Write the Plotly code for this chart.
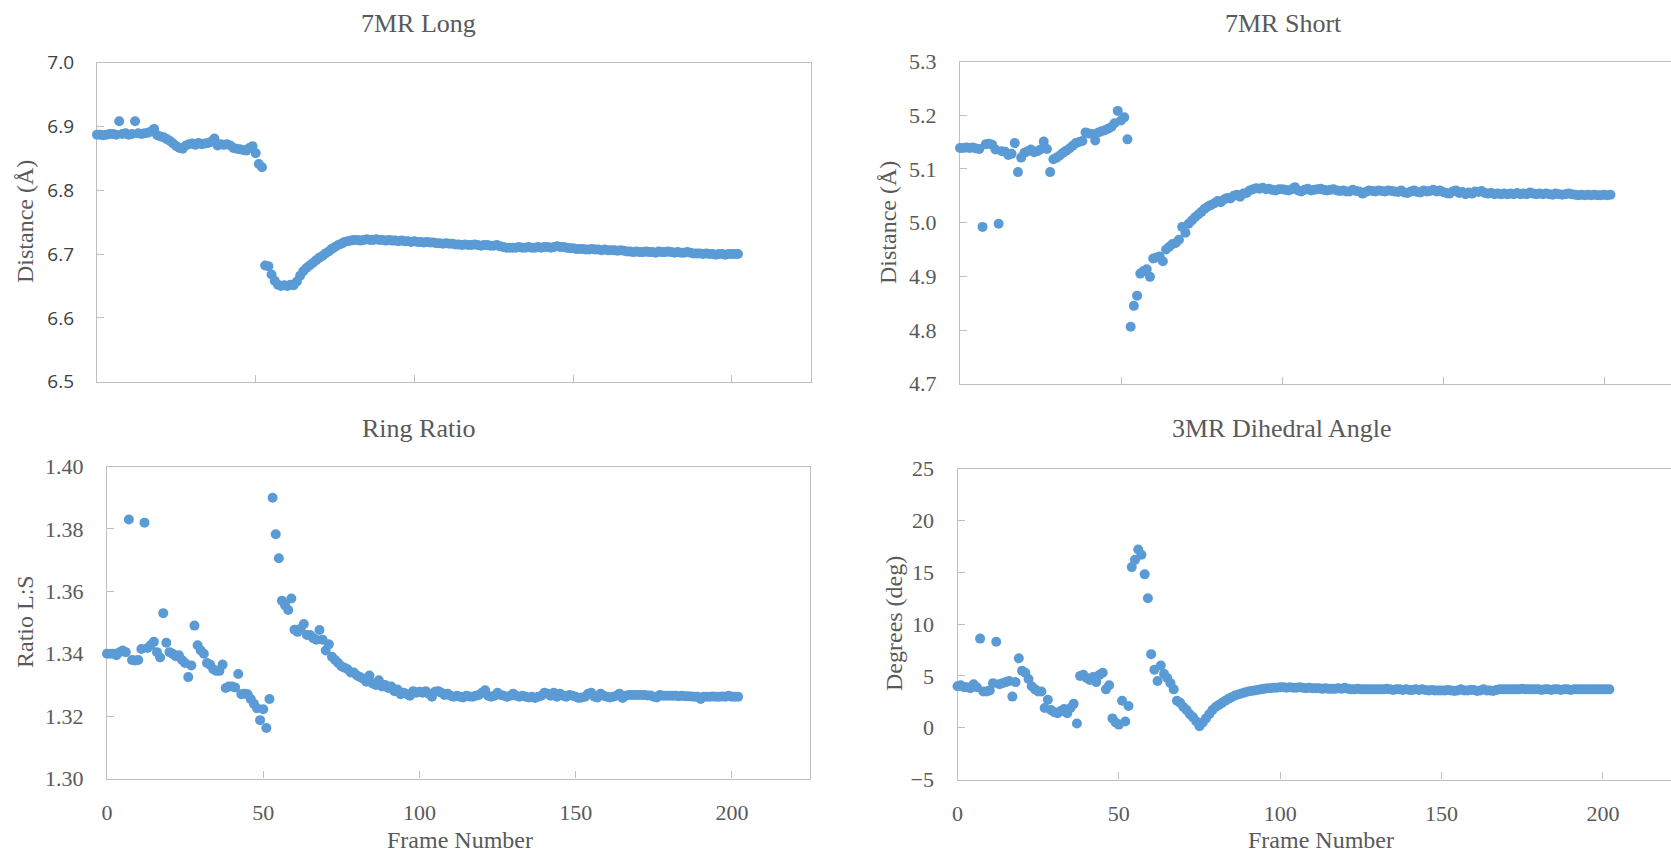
import plotly.graph_objects as go

W, H = 1671, 852

frames = list(range(203))

long_7mr = [
    6.887, 6.887, 6.886, 6.887, 6.888, 6.888, 6.887, 6.908, 6.888, 6.889,
    6.887, 6.888, 6.908, 6.889, 6.888, 6.889, 6.890, 6.892, 6.896, 6.886,
    6.884, 6.883, 6.880, 6.877, 6.873, 6.869, 6.866, 6.865, 6.870, 6.872,
    6.873, 6.871, 6.874, 6.872, 6.873, 6.874, 6.876, 6.881, 6.870, 6.872,
    6.871, 6.872, 6.870, 6.866, 6.865, 6.864, 6.863, 6.862, 6.866, 6.869,
    6.858, 6.841, 6.836, 6.682, 6.681, 6.668, 6.658, 6.652, 6.650, 6.651,
    6.650, 6.652, 6.651, 6.657, 6.666, 6.673, 6.678, 6.682, 6.686, 6.690,
    6.694, 6.697, 6.701, 6.704, 6.708, 6.711, 6.714, 6.716, 6.719, 6.720,
    6.721, 6.722, 6.722, 6.721, 6.722, 6.723, 6.722, 6.722, 6.723, 6.722,
    6.722, 6.721, 6.722, 6.721, 6.721, 6.720, 6.721, 6.720, 6.720, 6.719,
    6.720, 6.719, 6.719, 6.718, 6.719, 6.718, 6.718, 6.717, 6.717, 6.716,
    6.717, 6.716, 6.716, 6.715, 6.715, 6.714, 6.715, 6.714, 6.714, 6.715,
    6.714, 6.713, 6.714, 6.714, 6.713, 6.713, 6.714, 6.712, 6.711, 6.710,
    6.710, 6.710, 6.710, 6.711, 6.710, 6.710, 6.711, 6.710, 6.710, 6.711,
    6.710, 6.711, 6.711, 6.710, 6.711, 6.712, 6.711, 6.711, 6.710, 6.709,
    6.709, 6.708, 6.708, 6.708, 6.707, 6.707, 6.708, 6.707, 6.707, 6.706,
    6.707, 6.706, 6.706, 6.706, 6.705, 6.706, 6.705, 6.704, 6.704, 6.703,
    6.704, 6.703, 6.703, 6.704, 6.703, 6.703, 6.702, 6.704, 6.703, 6.703,
    6.704, 6.703, 6.702, 6.703, 6.702, 6.702, 6.703, 6.702, 6.701, 6.701,
    6.701, 6.700, 6.701, 6.700, 6.700, 6.699, 6.700, 6.700, 6.699, 6.700,
    6.700, 6.700, 6.700,
]

short_7mr = [
    5.139, 5.139, 5.140, 5.139, 5.140, 5.138, 5.137, 4.992, 5.146, 5.147,
    5.145, 5.136, 4.998, 5.133, 5.132, 5.126, 5.128, 5.148, 5.094, 5.121,
    5.130, 5.133, 5.136, 5.131, 5.133, 5.136, 5.151, 5.137, 5.094, 5.118,
    5.121, 5.125, 5.130, 5.134, 5.138, 5.143, 5.148, 5.150, 5.152, 5.168,
    5.166, 5.165, 5.153, 5.168, 5.170, 5.172, 5.175, 5.178, 5.185, 5.208,
    5.190, 5.196, 5.155, 4.806, 4.845, 4.864, 4.905, 4.910, 4.913, 4.899,
    4.933, 4.935, 4.937, 4.928, 4.950, 4.955, 4.960, 4.962, 4.968, 4.992,
    4.981, 4.998, 5.004, 5.010, 5.015, 5.020, 5.026, 5.030, 5.033, 5.036,
    5.040, 5.038, 5.043, 5.046, 5.045, 5.050, 5.052, 5.048, 5.054, 5.055,
    5.060, 5.062, 5.064, 5.063, 5.065, 5.062, 5.063, 5.061, 5.060, 5.062,
    5.062, 5.061, 5.060, 5.062, 5.066, 5.060, 5.058, 5.061, 5.063, 5.060,
    5.061, 5.062, 5.063, 5.061, 5.060, 5.061, 5.062, 5.060, 5.059, 5.060,
    5.058, 5.058, 5.061, 5.059, 5.058, 5.054, 5.057, 5.060, 5.059, 5.058,
    5.060, 5.059, 5.058, 5.060, 5.059, 5.058, 5.057, 5.060, 5.056, 5.055,
    5.058, 5.060, 5.057, 5.056, 5.060, 5.058, 5.059, 5.061, 5.058, 5.060,
    5.057, 5.055, 5.054, 5.058, 5.060, 5.055, 5.057, 5.053, 5.056, 5.054,
    5.058, 5.057, 5.059, 5.055, 5.054, 5.055, 5.053, 5.054, 5.053, 5.054,
    5.053, 5.054, 5.053, 5.055, 5.053, 5.054, 5.053, 5.056, 5.054, 5.053,
    5.054, 5.053, 5.054, 5.053, 5.052, 5.054, 5.053, 5.052, 5.053, 5.054,
    5.053, 5.052, 5.051, 5.052, 5.051, 5.052, 5.051, 5.052, 5.051, 5.051,
    5.052, 5.051, 5.052,
]

ring_ratio = [
    1.3400, 1.3400, 1.3400, 1.3395, 1.3405, 1.3410, 1.3405, 1.3830, 1.3380, 1.3378,
    1.3380, 1.3415, 1.3820, 1.3418, 1.3428, 1.3438, 1.3405, 1.3388, 1.3530, 1.3435,
    1.3405, 1.3400, 1.3392, 1.3395, 1.3380, 1.3370, 1.3325, 1.3362, 1.3490, 1.3427,
    1.3410, 1.3400, 1.3370, 1.3365, 1.3350, 1.3345, 1.3345, 1.3365, 1.3290, 1.3295,
    1.3295, 1.3292, 1.3335, 1.3270, 1.3272, 1.3270, 1.3255, 1.3240, 1.3225, 1.3187,
    1.3222, 1.3162, 1.3255, 1.3900, 1.3783, 1.3706, 1.3570, 1.3555, 1.3540, 1.3577,
    1.3477, 1.3470, 1.3480, 1.3495, 1.3460, 1.3460, 1.3450, 1.3445, 1.3476, 1.3445,
    1.3410, 1.3430, 1.3390, 1.3380, 1.3370, 1.3360, 1.3355, 1.3350, 1.3340, 1.3340,
    1.3330, 1.3325, 1.3320, 1.3310, 1.3330, 1.3305, 1.3300, 1.3315, 1.3295, 1.3300,
    1.3290, 1.3295, 1.3280, 1.3285, 1.3270, 1.3275, 1.3270, 1.3265, 1.3280, 1.3275,
    1.3278, 1.3275, 1.3280, 1.3272, 1.3262, 1.3278, 1.3280, 1.3275, 1.3268, 1.3272,
    1.3265, 1.3262, 1.3265, 1.3262, 1.3260, 1.3265, 1.3263, 1.3262, 1.3265, 1.3268,
    1.3275, 1.3283, 1.3265, 1.3262, 1.3265, 1.3275, 1.3268, 1.3265, 1.3262, 1.3265,
    1.3272, 1.3265, 1.3262, 1.3265, 1.3262, 1.3260, 1.3262, 1.3258, 1.3262, 1.3265,
    1.3275, 1.3272, 1.3265, 1.3275, 1.3262, 1.3272, 1.3265, 1.3262, 1.3268, 1.3265,
    1.3262, 1.3258, 1.3260, 1.3262, 1.3272, 1.3275, 1.3262, 1.3260, 1.3272, 1.3265,
    1.3262, 1.3260, 1.3262, 1.3265, 1.3272, 1.3258, 1.3265, 1.3268, 1.3268, 1.3268,
    1.3268, 1.3268, 1.3268, 1.3266, 1.3266, 1.3262, 1.3260, 1.3268, 1.3265, 1.3265,
    1.3265, 1.3265, 1.3265, 1.3264, 1.3265, 1.3264, 1.3264, 1.3263, 1.3262, 1.3262,
    1.3255, 1.3262, 1.3262, 1.3262, 1.3263, 1.3262, 1.3262, 1.3263, 1.3262, 1.3265,
    1.3262, 1.3262, 1.3262,
]

dihedral = [
    4.00, 4.10, 3.90, 3.90, 3.80, 4.20, 3.90, 8.60, 3.50, 3.50,
    3.60, 4.30, 8.30, 4.20, 4.30, 4.40, 4.50, 3.00, 4.40, 6.70,
    5.50, 5.30, 4.70, 4.00, 3.70, 3.50, 3.50, 1.90, 2.70, 1.70,
    1.50, 1.40, 1.60, 1.80, 1.40, 1.90, 2.30, 0.40, 5.00, 5.10,
    4.80, 4.60, 4.90, 4.40, 5.10, 5.30, 3.70, 4.10, 0.90, 0.50,
    0.30, 2.60, 0.60, 2.10, 15.50, 16.20, 17.20, 16.70, 14.80, 12.50,
    7.10, 5.60, 4.50, 6.00, 5.20, 4.80, 4.30, 3.70, 2.60, 2.40,
    2.00, 1.70, 1.30, 1.00, 0.60, 0.15, 0.50, 0.90, 1.30, 1.70,
    2.00, 2.20, 2.40, 2.60, 2.80, 2.95, 3.10, 3.20, 3.30, 3.40,
    3.50, 3.55, 3.60, 3.65, 3.70, 3.75, 3.80, 3.80, 3.85, 3.85,
    3.90, 3.90, 3.85, 3.90, 3.85, 3.85, 3.90, 3.85, 3.80, 3.85,
    3.80, 3.80, 3.80, 3.75, 3.80, 3.75, 3.75, 3.75, 3.80, 3.75,
    3.85, 3.75, 3.70, 3.70, 3.75, 3.70, 3.70, 3.70, 3.70, 3.70,
    3.70, 3.70, 3.70, 3.75, 3.70, 3.65, 3.70, 3.70, 3.65, 3.70,
    3.65, 3.65, 3.70, 3.65, 3.70, 3.65, 3.60, 3.65, 3.60, 3.60,
    3.60, 3.60, 3.65, 3.60, 3.55, 3.60, 3.70, 3.60, 3.60, 3.65,
    3.65, 3.55, 3.60, 3.70, 3.60, 3.60, 3.55, 3.65, 3.70, 3.70,
    3.70, 3.70, 3.70, 3.70, 3.70, 3.75, 3.70, 3.70, 3.70, 3.70,
    3.70, 3.65, 3.70, 3.70, 3.65, 3.70, 3.70, 3.65, 3.70, 3.70,
    3.65, 3.70, 3.70, 3.70, 3.70, 3.70, 3.70, 3.70, 3.70, 3.70,
    3.70, 3.70, 3.70,
]

titles = ["7MR Long", "7MR Short", "Ring Ratio", "3MR Dihedral Angle"]
y_titles = ["Distance (Å)", "Distance (Å)", "Ratio L:S", "Degrees (deg)"]
x_title = "Frame Number"
x_ticks = [0, 50, 100, 150, 200]

BLUE = "#5B9BD5"
GRID = "#BFBFBF"
TXT = "#595959"
SERIF = "Liberation Serif, Times New Roman, serif"


def px_x(p):
    return p / W


def px_y(p):
    return 1 - p / H


# panel boxes in pixels: (left, right, top, bottom), x-range max
panels = [
    dict(box=(97, 811, 62.5, 381.7), xmax=225, yr=[6.5, 7.0], dt=0.1, fmt=".1f", mirror_y=True, xlabels=False),
    dict(box=(960, W, 61.5, 383.7), xmax=(W - 960) / 3.22, yr=[4.7, 5.3], dt=0.1, fmt=".1f", mirror_y=False, xlabels=False),
    dict(box=(107, 810, 466.5, 778.5), xmax=225, yr=[1.30, 1.40], dt=0.02, fmt=".2f", mirror_y=True, xlabels=True),
    dict(box=(957.5, W, 468.7, 779.5), xmax=(W - 957.5) / 3.227, yr=[-5, 25], dt=5, fmt="d", mirror_y=False, xlabels=True),
]
series = [long_7mr, short_7mr, ring_ratio, dihedral]

fig = go.Figure()
layout = dict(
    width=W, height=H, autosize=False,
    margin=dict(l=0, r=0, t=0, b=0, pad=0, autoexpand=False),
    paper_bgcolor="white", plot_bgcolor="white",
    showlegend=False,
)

for i, (p, ys) in enumerate(zip(panels, series), start=1):
    xa = "x" if i == 1 else f"x{i}"
    ya = "y" if i == 1 else f"y{i}"
    fig.add_trace(go.Scatter(
        x=frames, y=ys, mode="markers", xaxis=xa, yaxis=ya,
        marker=dict(color=BLUE, size=10, line=dict(width=0)),
        cliponaxis=False, hoverinfo="x+y",
    ))
    l, r, t, b = p["box"]
    tickfont_y = dict(family=SERIF, size=22, color=TXT)
    if i == 1:
        tickfont_y = dict(family="Open Sans, DejaVu Sans, sans-serif", size=19, color="#404040")
    layout["xaxis" if i == 1 else f"xaxis{i}"] = dict(
        domain=[px_x(l), min(1.0, px_x(r))],
        range=[0, p["xmax"]],
        anchor=ya,
        tickmode="array", tickvals=x_ticks,
        ticktext=[str(v) for v in x_ticks],
        showticklabels=p["xlabels"],
        ticks="inside", ticklen=7, tickwidth=1, tickcolor=GRID,
        showline=True, linecolor=GRID, linewidth=1.3, mirror=True,
        showgrid=False, zeroline=False, layer="below traces",
        tickfont=dict(family=SERIF, size=22, color=TXT),
        ticklabelstandoff=14, automargin=False,
        fixedrange=True,
    )
    layout["yaxis" if i == 1 else f"yaxis{i}"] = dict(
        domain=[px_y(b), px_y(t)],
        range=p["yr"],
        anchor=xa,
        dtick=p["dt"], tick0=p["yr"][0], tickformat=p["fmt"],
        ticks="inside", ticklen=7, tickwidth=1, tickcolor=GRID,
        showline=True, linecolor=GRID, linewidth=1.3, mirror=p["mirror_y"],
        showgrid=False, zeroline=False, layer="below traces",
        tickfont=tickfont_y,
        ticklabelstandoff=18, automargin=False,
        fixedrange=True,
    )

fig.update_layout(**layout)

ann_pos_titles = [(419, 24), (1283, 24), (419, 428), (1282, 428)]
ann_pos_ytitles = [(25, 222), (888, 222), (25, 622), (894, 624)]
ann_pos_xtitles = [(460, 840), (1321, 840)]

annotations = []
for txt, (x, y) in zip(titles, ann_pos_titles):
    annotations.append(dict(text=txt, x=px_x(x), y=px_y(y), xref="paper", yref="paper",
                            xanchor="center", yanchor="middle", showarrow=False,
                            font=dict(family=SERIF, size=26, color=TXT)))
for txt, (x, y) in zip(y_titles, ann_pos_ytitles):
    annotations.append(dict(text=txt, x=px_x(x), y=px_y(y), xref="paper", yref="paper",
                            xanchor="center", yanchor="middle", showarrow=False, textangle=-90,
                            font=dict(family=SERIF, size=24, color=TXT)))
for (x, y) in ann_pos_xtitles:
    annotations.append(dict(text=x_title, x=px_x(x), y=px_y(y), xref="paper", yref="paper",
                            xanchor="center", yanchor="middle", showarrow=False,
                            font=dict(family=SERIF, size=24, color=TXT)))
fig.update_layout(annotations=annotations)

fig.write_html(
    "out.html",
    config={"displayModeBar": False, "responsive": False},
    post_script="document.body.style.margin='0';document.body.style.padding='0';"
                "document.body.style.overflow='hidden';",
)
